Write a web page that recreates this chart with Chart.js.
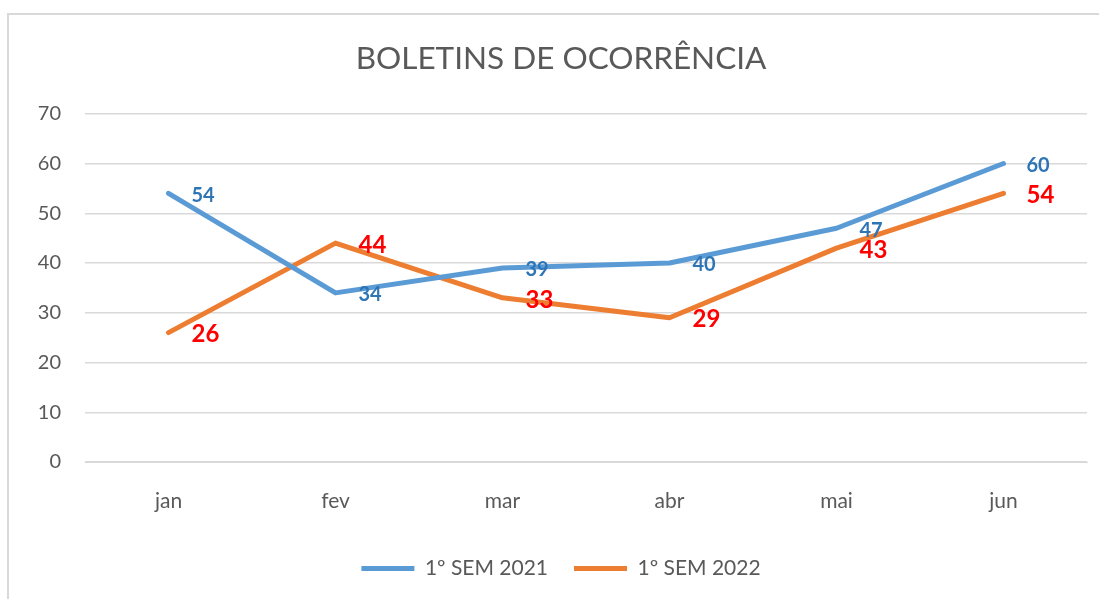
<!DOCTYPE html>
<html>
<head>
<meta charset="utf-8">
<script src="https://cdn.jsdelivr.net/npm/chart.js@4/dist/chart.umd.min.js"></script>
<style>
  html, body { margin: 0; padding: 0; background: #fff; overflow: hidden; }
  #frame {
    position: absolute; left: 7px; top: 13px; width: 1200px; height: 700px;
    border-left: 2px solid #d9d9d9; border-top: 2px solid #d9d9d9;
  }
  #wrap { position: absolute; left: 0; top: 0; width: 1099px; height: 599px; }
</style>
</head>
<body>
<div id="frame"></div>
<div id="wrap"><canvas id="lineChart"></canvas></div>
<script>
const months = ['jan', 'fev', 'mar', 'abr', 'mai', 'jun'];
const sem2021 = [54, 34, 39, 40, 47, 60];
const sem2022 = [26, 44, 33, 29, 43, 54];
const yTicks = [0, 10, 20, 30, 40, 50, 60, 70];

const FONT = 'Lato, Carlito, "Open Sans", sans-serif';
const GREY = '#595959';

// desenha os rótulos de valor à direita de cada ponto
const valueLabels = {
    id: 'valueLabels',
    afterDatasetsDraw(chart) {
        const ctx = chart.ctx;
        chart.data.datasets.forEach((ds, i) => {
            const meta = chart.getDatasetMeta(i);
            ctx.save();
            ctx.font = `bold ${ds.labelSize}px ${FONT}`;
            ctx.fillStyle = ds.labelColor;
            ctx.textAlign = 'left';
            ctx.textBaseline = 'middle';
            meta.data.forEach((pt, j) => {
                ctx.fillText(String(ds.data[j]), pt.x + 23, pt.y + 2);
            });
            ctx.restore();
        });
    }
};

new Chart(document.getElementById('lineChart'), {
    type: 'line',
    data: {
        labels: months,
        datasets: [
            {
                label: '1º SEM 2021',
                data: sem2021,
                borderColor: '#5B9BD5',
                backgroundColor: '#5B9BD5',
                borderWidth: 5,
                pointRadius: 0,
                borderCapStyle: 'round',
                borderJoinStyle: 'round',
                tension: 0,
                labelColor: '#2E75B6',
                labelSize: 20
            },
            {
                label: '1º SEM 2022',
                data: sem2022,
                borderColor: '#ED7D31',
                backgroundColor: '#ED7D31',
                borderWidth: 5,
                pointRadius: 0,
                borderCapStyle: 'round',
                borderJoinStyle: 'round',
                tension: 0,
                labelColor: '#FF0000',
                labelSize: 24
            }
        ]
    },
    options: {
        responsive: true,
        maintainAspectRatio: false,
        animation: false,
        layout: { padding: { left: 35, right: 12, top: 0, bottom: 10 } },
        plugins: {
            title: {
                display: true,
                text: 'BOLETINS DE OCORRÊNCIA',
                color: GREY,
                font: { family: FONT, size: 31.5, weight: 'normal' },
                padding: { top: 40, bottom: 36 }
            },
            legend: {
                position: 'bottom',
                labels: {
                    color: GREY,
                    font: { family: FONT, size: 21 },
                    usePointStyle: true,
                    pointStyle: 'line',
                    pointStyleWidth: 53,
                    padding: 26
                }
            },
            tooltip: { enabled: false }
        },
        scales: {
            x: {
                offset: true,
                grid: { display: false },
                border: { display: true, color: '#d9d9d9', width: 1 },
                ticks: { color: GREY, font: { family: FONT, size: 21, lineHeight: 1.0 }, padding: 20.5 }
            },
            y: {
                min: 0,
                max: 70,
                afterBuildTicks(axis) {
                    axis.ticks = yTicks.map(v => ({ value: v }));
                },
                afterFit(axis) { axis.width = 50; },
                grid: { color: '#d9d9d9', lineWidth: 1.5, drawTicks: false },
                border: { display: false },
                ticks: { color: GREY, font: { family: FONT, size: 20 }, padding: 24 }
            }
        }
    },
    plugins: [valueLabels]
});
</script>
</body>
</html>
